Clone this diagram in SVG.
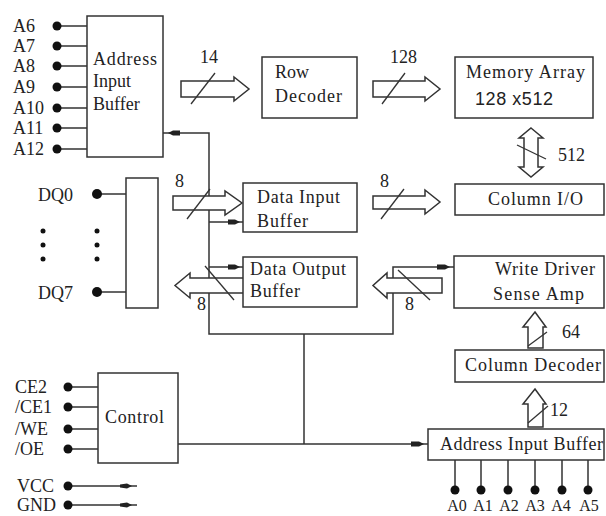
<svg xmlns="http://www.w3.org/2000/svg" width="606" height="516" viewBox="0 0 606 516">
<style>
.box{fill:#fff;stroke:#333;stroke-width:1.5}
.ln{fill:none;stroke:#333;stroke-width:1.5}
.fat{fill:#fff;stroke:#333;stroke-width:1.5;stroke-linejoin:miter}
.sl{stroke:#333;stroke-width:1.3}
.ah{fill:#222}
.dot{fill:#111}
text{font-family:"Liberation Serif","Times New Roman",serif;font-size:18px;fill:#222}
.sans{font-family:"Liberation Sans",Arial,sans-serif}
.pin{font-size:16px}
</style>
<rect width="606" height="516" fill="#fff"/>

<g id="connectors">
  <!-- control bus -->
  <path class="ln" d="M163 133 H209 V334 H393 V267 H454"/>
  <path class="ln" d="M209 222 H243 M209 267 H243"/>
  <path class="ln" d="M304 334 V444 M178 444 H428"/>
  <polygon class="ah" points="168,133 173,130.5 180,130.5 180,135.5 173,135.5"/>
  <polygon class="ah" points="240,222 235,219.5 228,219.5 228,224.5 235,224.5"/>
  <polygon class="ah" points="240,267 235,264.5 228,264.5 228,269.5 235,269.5"/>
  <polygon class="ah" points="450,267 445,264.5 437,264.5 437,269.5 445,269.5"/>
  <polygon class="ah" points="424,444 419,441.5 411,441.5 411,446.5 419,446.5"/>
  <!-- fat bus arrows -->
  <path class="fat" d="M181 81 H234 V77 L249 89 L234 101 V97 H181 Z"/>
  <line class="sl" x1="191" y1="104" x2="215" y2="73"/>
  <path class="fat" d="M373 81 H425 V77 L440 89 L425 101 V97 H373 Z"/>
  <line class="sl" x1="382" y1="104" x2="405" y2="73"/>
  <path class="fat" d="M531 128 L543 138 H538 V167 H543 L531 177 L519 167 H524 V138 H519 Z"/>
  <line class="sl" x1="517" y1="145" x2="546" y2="159"/>
  <path class="fat" d="M173 196 H225 V191 L242 203 L225 215 V210 H173 Z"/>
  <line class="sl" x1="187" y1="219" x2="210" y2="189"/>
  <path class="fat" d="M373 196 H425 V190 L440 202 L425 214 V209 H373 Z"/>
  <line class="sl" x1="381" y1="219" x2="404" y2="189"/>
  <path class="fat" d="M243 278 H190 V273 L175 285.5 L190 298 V293 H243"/>
  <line class="sl" x1="205" y1="266" x2="234" y2="300"/>
  <path class="fat" d="M442 278 H387 V273 L373 285.5 L387 298 V293 H442 Z"/>
  <line class="sl" x1="398" y1="270" x2="430" y2="300"/>
  <path class="fat" d="M535 312 L546 327 H543 V348 H528 V327 H523 Z"/>
  <line class="sl" x1="528" y1="346" x2="547" y2="332"/>
  <path class="fat" d="M535 389 L546 404 H543 V427 H528 V404 H523 Z"/>
  <line class="sl" x1="528" y1="423" x2="548" y2="406"/>
  <!-- pin lines -->
  <path class="ln" d="M57 26 H87 M57 46 H87 M57 66 H87 M57 87 H87 M57 108 H87 M57 128 H87 M57 149 H87"/>
  <path class="ln" d="M97 194 H126 M97 292 H126"/>
  <path class="ln" d="M68 387 H98 M68 407 H98 M68 429 H98 M68 449 H98"/>
  <path class="ln" d="M68 486 H137 M68 505 H137"/>
  <polygon class="ah" points="132,486 127,483.5 120,484.5 120,487.5 127,488.5"/>
  <polygon class="ah" points="132,505 127,502.5 120,503.5 120,506.5 127,507.5"/>
  <path class="ln" d="M455 460 V490 M481 460 V490 M508 460 V490 M535 460 V490 M562 460 V490 M588 460 V490"/>
</g>

<g id="addr-pins-top">
  <circle class="dot" cx="57" cy="26" r="4.5"/><circle class="dot" cx="57" cy="46" r="4.5"/>
  <circle class="dot" cx="57" cy="66" r="4.5"/><circle class="dot" cx="57" cy="87" r="4.5"/>
  <circle class="dot" cx="57" cy="108" r="4.5"/><circle class="dot" cx="57" cy="128" r="4.5"/>
  <circle class="dot" cx="57" cy="149" r="4.5"/>
  <text x="13" y="32">A6</text><text x="13" y="52">A7</text><text x="13" y="72">A8</text>
  <text x="13" y="93">A9</text><text x="13" y="114">A10</text><text x="13" y="134">A11</text>
  <text x="13" y="155">A12</text>
</g>

<g id="address-input-buffer-top">
  <rect class="box" x="87" y="16" width="76" height="141"/>
  <text x="93" y="65" textLength="64" lengthAdjust="spacing">Address</text>
  <text x="93" y="87">Input</text>
  <text x="93" y="110">Buffer</text>
</g>

<g id="label-14"><text x="200" y="63">14</text></g>
<g id="label-128"><text x="390" y="63">128</text></g>

<g id="row-decoder">
  <rect class="box" x="262" y="57" width="95" height="61"/>
  <text x="275" y="78">Row</text>
  <text x="275" y="102" textLength="67" lengthAdjust="spacing">Decoder</text>
</g>

<g id="memory-array">
  <rect class="box" x="455" y="57" width="138" height="61"/>
  <text x="466" y="78" textLength="119" lengthAdjust="spacing">Memory Array</text>
  <text class="sans" x="475" y="105" textLength="78" lengthAdjust="spacing">128 x512</text>
</g>

<g id="label-512"><text x="558" y="161">512</text></g>

<g id="column-io">
  <rect class="box" x="455" y="184" width="149" height="31"/>
  <text x="488" y="205" textLength="95" lengthAdjust="spacing">Column I/O</text>
</g>

<g id="dq-pins">
  <rect class="box" x="126" y="178" width="32" height="130"/>
  <circle class="dot" cx="97" cy="194" r="5"/>
  <circle class="dot" cx="97" cy="292" r="5"/>
  <circle class="dot" cx="43" cy="231" r="2.5"/><circle class="dot" cx="43" cy="245" r="2.5"/><circle class="dot" cx="43" cy="259" r="2.5"/>
  <circle class="dot" cx="97" cy="231" r="2.5"/><circle class="dot" cx="97" cy="245" r="2.5"/><circle class="dot" cx="97" cy="259" r="2.5"/>
  <text x="38" y="201">DQ0</text>
  <text x="38" y="299">DQ7</text>
</g>

<g id="labels-8">
  <text x="175" y="187">8</text>
  <text x="380" y="187">8</text>
  <text x="197" y="310">8</text>
  <text x="405" y="310">8</text>
</g>

<g id="data-input-buffer">
  <rect class="box" x="243" y="183" width="114" height="49"/>
  <text x="257" y="203" textLength="83" lengthAdjust="spacing">Data Input</text>
  <text x="257" y="227" textLength="51" lengthAdjust="spacing">Buffer</text>
</g>

<g id="data-output-buffer">
  <rect class="box" x="243" y="257" width="114" height="50"/>
  <text x="250" y="275" textLength="96" lengthAdjust="spacing">Data Output</text>
  <text x="250" y="297" textLength="50" lengthAdjust="spacing">Buffer</text>
</g>

<g id="write-driver-sense-amp">
  <rect class="box" x="454" y="256" width="150" height="52"/>
  <text x="495" y="275" textLength="100" lengthAdjust="spacing">Write Driver</text>
  <text x="493" y="300" textLength="91" lengthAdjust="spacing">Sense Amp</text>
</g>

<g id="label-64"><text x="562" y="338">64</text></g>

<g id="column-decoder">
  <rect class="box" x="455" y="350" width="149" height="32"/>
  <text x="465" y="371" textLength="136" lengthAdjust="spacing">Column Decoder</text>
</g>

<g id="label-12"><text x="550" y="416">12</text></g>

<g id="address-input-buffer-bottom">
  <rect class="box" x="428" y="429" width="176" height="31"/>
  <text x="440" y="450" textLength="163" lengthAdjust="spacing">Address Input Buffer</text>
</g>

<g id="addr-pins-bottom">
  <circle class="dot" cx="455" cy="490" r="4.5"/><circle class="dot" cx="481" cy="490" r="4.5"/>
  <circle class="dot" cx="508" cy="490" r="4.5"/><circle class="dot" cx="535" cy="490" r="4.5"/>
  <circle class="dot" cx="562" cy="490" r="4.5"/><circle class="dot" cx="588" cy="490" r="4.5"/>
  <g text-anchor="middle">
    <text class="pin" x="457" y="511">A0</text><text class="pin" x="483" y="511">A1</text><text class="pin" x="509" y="511">A2</text>
    <text class="pin" x="535" y="511">A3</text><text class="pin" x="561" y="511">A4</text><text class="pin" x="589" y="511">A5</text>
  </g>
</g>

<g id="control">
  <rect class="box" x="98" y="373" width="80" height="90"/>
  <text x="105" y="423" textLength="59" lengthAdjust="spacing">Control</text>
</g>

<g id="control-pins">
  <circle class="dot" cx="68" cy="387" r="4.5"/><circle class="dot" cx="68" cy="407" r="4.5"/>
  <circle class="dot" cx="68" cy="429" r="4.5"/><circle class="dot" cx="68" cy="449" r="4.5"/>
  <text x="15" y="393">CE2</text><text x="15" y="413">/CE1</text>
  <text x="15" y="435">/WE</text><text x="15" y="455">/OE</text>
</g>

<g id="power-pins">
  <circle class="dot" cx="68" cy="486" r="4.5"/><circle class="dot" cx="68" cy="505" r="4.5"/>
  <text x="17" y="492">VCC</text><text x="17" y="511">GND</text>
</g>
</svg>
